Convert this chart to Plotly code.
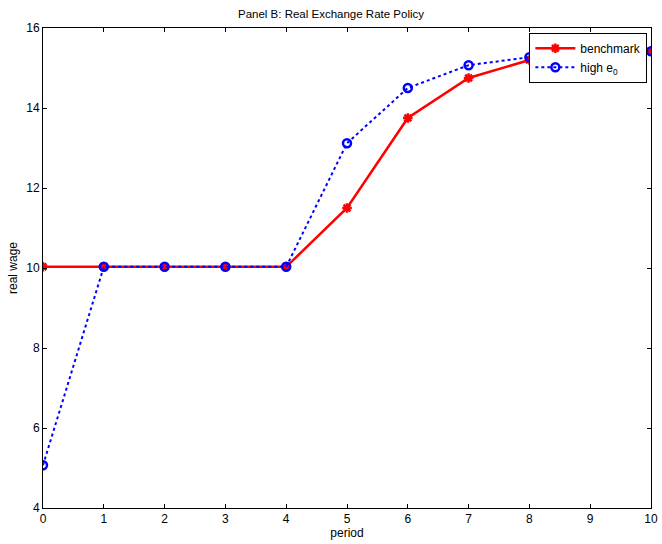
import plotly.graph_objects as go

period = [0, 1, 2, 3, 4, 5, 6, 7, 8, 9, 10]
benchmark = [10.03, 10.03, 10.03, 10.03, 10.03, 11.5, 13.75, 14.75, 15.2, 15.35, 15.42]
high_e0 = [5.07, 10.03, 10.03, 10.03, 10.03, 13.12, 14.5, 15.07, 15.27, 15.37, 15.42]
x_ticks = list(range(0, 11))
y_ticks = [4, 6, 8, 10, 12, 14, 16]

fig = go.Figure()
fig.add_trace(go.Scatter(
    x=period, y=benchmark, mode="lines+markers", name="benchmark",
    line=dict(color="#ff0000", width=2.5),
    marker=dict(symbol="asterisk-open", size=8, color="#ff0000",
                line=dict(color="#ff0000", width=2.5)),
))
fig.add_trace(go.Scatter(
    x=period, y=high_e0, mode="lines+markers", name="high e<sub>0</sub>",
    line=dict(color="#0000ff", width=2, dash="dot"),
    marker=dict(symbol="circle-open", size=8, color="#0000ff",
                line=dict(color="#0000ff", width=2.5)),
))

axis_common = dict(
    showline=True, linecolor="black", linewidth=1, mirror="ticks",
    ticks="inside", ticklen=4, tickcolor="black", showgrid=False, zeroline=False,
    automargin=False,
    tickfont=dict(family="Liberation Sans, Arial", size=12, color="black"),
)
fig.update_layout(
    width=662, height=544,
    margin=dict(l=43, r=11, t=28, b=36),
    plot_bgcolor="white", paper_bgcolor="white",
    title=dict(text="Panel B: Real Exchange Rate Policy", x=0.5, xanchor="center",
               y=1 - 14 / 544, yanchor="middle",
               font=dict(family="Liberation Sans, Arial", size=11.5, color="black")),
    xaxis=dict(range=[0, 10], tickvals=x_ticks, title=dict(text="period", standoff=2,
               font=dict(family="Liberation Sans, Arial", size=12, color="black")), **axis_common),
    yaxis=dict(range=[4, 16], tickvals=y_ticks, title=dict(text="real wage", standoff=6,
               font=dict(family="Liberation Sans, Arial", size=12, color="black")), **axis_common),
    legend=dict(x=0.994, y=0.99, xanchor="right", yanchor="top",
                bgcolor="white", bordercolor="black", borderwidth=1,
                font=dict(family="Liberation Sans, Arial", size=12, color="black"),
                tracegroupgap=0, itemwidth=40),
    showlegend=True,
)
fig.write_html("out.html")
